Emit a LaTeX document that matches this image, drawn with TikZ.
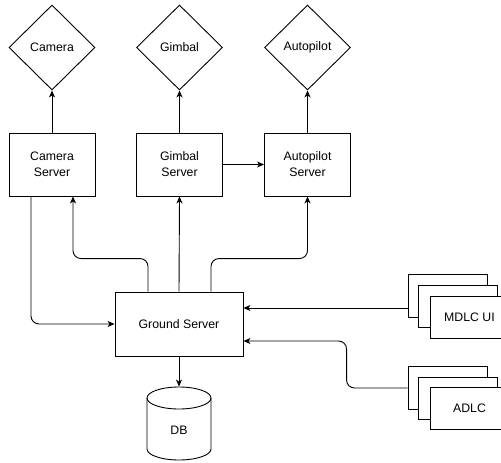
\documentclass[tikz,border=0pt]{standalone}
\usepackage{fontspec}
\setmainfont{Liberation Sans}
\usetikzlibrary{shapes.geometric,arrows.meta}
\begin{document}
\begin{tikzpicture}[x=1pt,y=-1pt,line width=0.9pt,
  font=\fontsize{12.3}{16}\selectfont,
  dia/.style={draw,shape=diamond,inner sep=0pt,minimum width=86pt,minimum height=85pt},
  box/.style={draw,fill=white,inner sep=0pt,align=center,minimum width=86pt,minimum height=63pt},
  stk/.style={draw,fill=white,inner sep=0pt,minimum width=79pt,minimum height=42.5pt},
  arr/.style={-{Stealth[length=7pt,width=6pt,inset=2pt]},rounded corners=8pt}]
\useasboundingbox (0,0) rectangle (501,463);
\clip (0,0) rectangle (501,463);
% devices
\node[dia] (cam) at (52,47.5) {Camera};
\node[dia] (gim) at (179.5,47.5) {Gimbal};
\node[dia] (aut) at (307.5,47.5) {Autopilot};
% servers
\node[box] (cams) at (52,164.5) {Camera\\Server};
\node[box] (gims) at (179.5,164.5) {Gimbal\\Server};
\node[box] (auts) at (307.5,164.5) {Autopilot\\Server};
\node[box,minimum width=128pt,minimum height=64pt] (gs) at (179,324) {Ground Server};
% DB
\node[inner sep=0pt,minimum width=64pt,minimum height=73pt] (db) at (179,423.5) {};
\draw (179,398) ellipse[x radius=32pt,y radius=11pt];
\draw (147,398) -- (147,449) arc[start angle=180,end angle=360,x radius=32pt,y radius=11pt] -- (211,398);
\node (dbtext) at (179,430) {DB};
% MDLC UI stack
\node[stk] (mback) at (447.5,296) {};
\node[stk] (mmid) at (458,306.5) {};
\node[stk] (mfront) at (469.5,317.5) {MDLC UI};
% ADLC stack
\node[stk] (aback) at (447.5,388) {};
\node[stk] (amid) at (458,398.5) {};
\node[stk] (afront) at (469.5,408.5) {ADLC};
% connectors
\draw[arr] (cams.north) -- (cam.south);
\draw[arr] (gims.north) -- (gim.south);
\draw[arr] (auts.north) -- (aut.south);
\draw[arr] (gims.east) -- (auts.west);
\draw[arr] ([xshift=-21pt]cams.south) |- (gs.west);
\draw[arr] ([xshift=-31pt]gs.north) -- ++(0,-33) -| ([xshift=21pt]cams.south);
\draw[arr] (gs.north) -- (gims.south);
\draw[arr] ([xshift=32pt]gs.north) -- ++(0,-33) -| (auts.south);
\draw[arr] (gs.south) -- (db.north);
\draw[arr] ([yshift=-12pt]mback.west) -- ([yshift=16pt]gs.east);
\draw[arr] (aback.west) -- ++(-61,0) |- ([yshift=-17pt]gs.east);
\end{tikzpicture}
\end{document}
